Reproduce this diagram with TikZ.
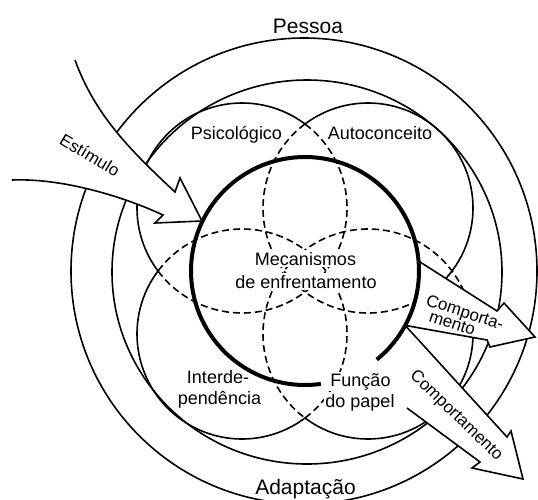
\documentclass[tikz,border=0pt]{standalone}
\usepackage{fontspec}
\setmainfont{Liberation Sans}
\begin{document}
\begin{tikzpicture}[x=1pt,y=-1pt,
  thinline/.style={line width=1.6pt},
  dashline/.style={line width=1.6pt,dash pattern=on 7pt off 4pt},
  thickline/.style={line width=4pt},
  blockarrow/.style={line width=1.6pt,line join=miter,miter limit=20},
  lab/.style={font=\fontsize{18}{21}\selectfont,inner sep=0pt,anchor=base},
  labbg/.style={lab,fill=white,inner sep=1.5pt},
  title/.style={font=\fontsize{21}{24}\selectfont,inner sep=0pt,anchor=base},
  arrlab/.style={font=\fontsize{17}{19}\selectfont,inner sep=0pt},
]
\useasboundingbox (0,0) rectangle (538,499);

% centres
\coordinate (C0) at (304,271);
\coordinate (C1) at (307,272);
\coordinate (CT) at (305,271);
\coordinate (Cps) at (242,208);
\coordinate (Cau) at (368,208);
\coordinate (Cin) at (242,334);
\coordinate (Cfu) at (368,334);

% big circles
\draw[thinline] (C0) circle[radius=233];
\draw[thinline] (C1) ellipse[x radius=195, y radius=192];

% four overlapping circles
\draw[thinline] (Cps) ++(-53:105) arc[start angle=-53, end angle=-217, radius=105];
\draw[dashline] (Cps) ++(-217:105) arc[start angle=-217, end angle=-413, radius=105];
\draw[thinline] (Cau) ++(50:105) arc[start angle=50, end angle=-127, radius=105];
\draw[dashline] (Cau) ++(-127:105) arc[start angle=-127, end angle=-310, radius=105];
\draw[thinline] (Cin) ++(-143:105) arc[start angle=-143, end angle=-307, radius=105];
\draw[dashline] (Cin) ++(-307:105) arc[start angle=-307, end angle=-503, radius=105];
\draw[thinline] (Cfu) ++(-233:105) arc[start angle=-233, end angle=-378, radius=105];
\draw[dashline] (Cfu) ++(-18:105) arc[start angle=-18, end angle=-233, radius=105];

% arrow coordinates
\path (CT) ++(-5:114) coordinate (a1s);
\path (CT) ++(28.5:114) coordinate (P);
\coordinate (a1u) at (497,311);
\coordinate (a1b1) at (504,303);
\coordinate (a1t) at (535,337);
\coordinate (a1b2) at (490,347);
\coordinate (a1l) at (487,340);
\coordinate (a2u) at (507,437);
\coordinate (a2b1) at (511,431);
\coordinate (a2t) at (523,479);
\coordinate (a2b2) at (472,468);
\coordinate (a2l) at (480,462);
\coordinate (a2e) at (407,408);
\coordinate (e1) at (75,60);
\coordinate (e2) at (175,192);
\coordinate (e3) at (180,178);
\coordinate (et) at (202,221);
\coordinate (e4) at (155,223);
\coordinate (e5) at (163,215);
\coordinate (e6) at (12,180);

% fills
\fill[white] (e1) .. controls (95,115) and (130,150) .. (e2) -- (e3) -- (et) -- (e4) -- (e5) .. controls (120,195) and (60,178) .. (e6) -- cycle;
\fill[white] (a1s) -- (a1u) -- (a1b1) -- (a1t) -- (a1b2) -- (a1l) -- (P) arc[start angle=28.5, end angle=-5, radius=114] -- cycle;
\fill[white] (P) -- (a2u) -- (a2b1) -- (a2t) -- (a2b2) -- (a2l) -- (a2e) -- cycle;

% outlines
\draw[blockarrow] (e1) .. controls (95,115) and (130,150) .. (e2) -- (e3) -- (et) -- (e4) -- (e5) .. controls (120,195) and (60,178) .. (e6);
\draw[blockarrow] (a1s) -- (a1u) -- (a1b1) -- (a1t) -- (a1b2) -- (a1l) -- (P);
\draw[blockarrow] (P) -- (a2u) -- (a2b1) -- (a2t) -- (a2b2) -- (a2l) -- (a2e);

% labels
\node[title] (pessoa) at (308,33) {Pessoa};
\node[title] (adapt) at (305.5,494) {Adaptação};
\node[lab] (psico) at (236.5,139) {Psicológico};
\node[lab] (auto) at (380,139) {Autoconceito};
\node[labbg] (mec1) at (305.5,265) {Mecanismos};
\node[labbg] (mec2) at (306,288) {de enfrentamento};
\node[lab] (int1) at (218,383) {Interde-};
\node[lab] (int2) at (219.5,404) {pendência};
\node[labbg] (fun1) at (360.5,386) {Função};
\node[labbg] (fun2) at (360,407) {do papel};
\node[arrlab, rotate=-31] (estim) at (90,155) {Estímulo};
\node[arrlab, rotate=-18, anchor=base west] (comp1) at (425,305) {Comporta-};
\node[arrlab, rotate=-18, anchor=base west] (comp2) at (428,321) {mento};
\node[arrlab, rotate=-44] (comp3) at (456,416) {Comportamento};

% thick central circle
\draw[thickline] (CT) ++(51:114) arc[start angle=51, end angle=-278, radius=114];
\end{tikzpicture}
\end{document}
